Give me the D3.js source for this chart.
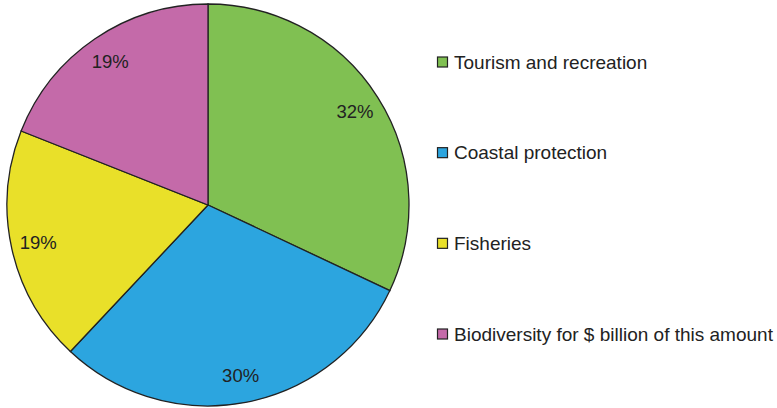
<!DOCTYPE html>
<html><head><meta charset="utf-8">
<script src="https://cdn.jsdelivr.net/npm/d3@7"></script>
<style>body{margin:0;background:#fff}svg{display:block}</style>
</head><body>
<svg id="c" width="777" height="408"></svg>
<script>
const categories = ["Tourism and recreation","Coastal protection","Fisheries","Biodiversity for $ billion of this amount"];
const values = [32, 30, 19, 19];
const colors = ["#80c052","#2ca5df","#e9e029","#c46aa9"];

const svg = d3.select("#c");
const cx = 208, cy = 205, R = 201;
const pie = d3.pie().sort(null).value(d => d)(values);
const arc = d3.arc().innerRadius(0).outerRadius(R);
const labelArc = d3.arc().innerRadius(174).outerRadius(174);
const g = svg.append("g").attr("transform", `translate(${cx},${cy})`);
g.selectAll("path").data(pie).join("path")
  .attr("d", arc).attr("fill", (d,i) => colors[i])
  .attr("stroke", "#222").attr("stroke-width", 1.3);
g.selectAll("text").data(pie).join("text")
  .attr("transform", d => `translate(${labelArc.centroid(d)})`)
  .attr("text-anchor","middle").attr("dy","0.35em")
  .attr("font-family","Liberation Sans, Arial, sans-serif").attr("font-size",18.5)
  .attr("fill","#222").text(d => d.data + "%");

const ly = d3.scalePoint().domain(categories).range([62, 334]);
const lg = svg.append("g").selectAll("g").data(categories).join("g")
  .attr("transform", d => `translate(437,${ly(d)})`);
lg.append("rect").attr("x",0.5).attr("y",-5).attr("width",10).attr("height",10)
  .attr("fill",(d,i)=>colors[i]).attr("stroke","#222").attr("stroke-width",1.2);
lg.append("text").attr("x",17).attr("dy","0.35em")
  .attr("font-family","Liberation Sans, Arial, sans-serif").attr("font-size",19)
  .attr("fill","#222").text(d => d);
</script>
</body></html>
